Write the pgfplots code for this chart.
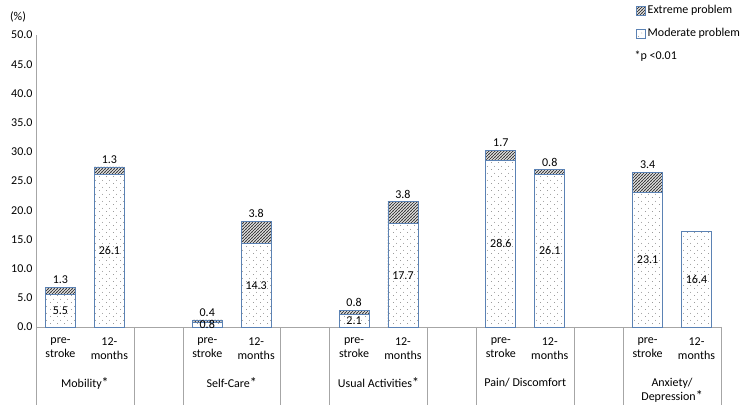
\documentclass[border=0pt]{standalone}
\usepackage{fontspec}
\setmainfont{Carlito}
\usepackage{pgfplots}
\pgfplotsset{compat=1.18}
\usepackage{pgfplotstable}
\usetikzlibrary{patterns.meta}

\definecolor{barline}{HTML}{5B82B4}
\definecolor{axgray}{HTML}{A6A6A6}
\definecolor{hatch}{HTML}{404040}
\definecolor{dotc}{HTML}{666666}

\tikzdeclarepattern{
  name=sparsedots,
  type=colored,
  bounding box={(0pt,0pt) and (7pt,7pt)},
  tile size={(7pt,7pt)},
  code={\fill[dotc] (1.75pt,1.75pt) circle (0.45pt); \fill[dotc] (5.25pt,5.25pt) circle (0.45pt);}
}
\tikzdeclarepattern{
  name=hatchlines,
  type=colored,
  bounding box={(-0.5pt,-0.5pt) and (3.5pt,3.5pt)},
  tile size={(3pt,3pt)},
  code={\draw[hatch, line width=0.75pt] (-0.5pt,-0.5pt) -- (3.5pt,3.5pt);}
}

\pgfplotsset{sqlegend/.style={legend image code/.code={\draw[##1] (0pt,-4.5pt) rectangle (9pt,4.5pt);}}}
\newcommand\lbl{\fontsize{12}{14}\selectfont}
\newcommand\st{{\fontsize{14}{14}\selectfont*}}

% x = slot, mod = moderate problem, ext = extreme problem, tot = top of the bar
\pgfplotstableread{
x  mod  ext  tot
0  5.5  1.3  6.8
1  26.1 1.3  27.4
3  0.8  0.4  1.2
4  14.3 3.8  18.1
6  2.1  0.8  2.9
7  17.7 3.8  21.5
9  28.6 1.7  30.3
10 26.1 0.8  26.9
12 23.1 3.4  26.5
13 16.4 0    16.4
}\eqdata

\begin{document}
\begin{tikzpicture}
\begin{axis}[
    width=685pt, height=292pt, scale only axis,
    ybar, bar width=30pt, bar shift=0pt,
    xmin=-0.5, xmax=13.5, ymin=0, ymax=50,
    enlargelimits=false,
    axis x line=bottom, axis y line=left,
    axis line style={draw=axgray, -},
    major tick length=0pt,
    ytick={0,5,...,50},
    yticklabel style={/pgf/number format/fixed, /pgf/number format/fixed zerofill,
        /pgf/number format/precision=1, /pgf/number format/assume math mode=true},
    xtick={0,1,3,4,6,7,9,10,12,13},
    xticklabels={{pre-\\stroke},{12-\\months},{pre-\\stroke},{12-\\months},{pre-\\stroke},
        {12-\\months},{pre-\\stroke},{12-\\months},{pre-\\stroke},{12-\\months}},
    xticklabel style={align=center, yshift=-7pt},
    tick label style={font=\fontsize{12}{14}\selectfont},
    clip=false,
    legend style={at={(axis description cs:0.876,1.108)}, anchor=north west,
        draw=none, fill=none, font=\lbl,
        row sep=9pt, inner sep=0pt},
    legend cell align=left,
    after end axis/.code={
        % moderate values, middle of the segment
        \node[font=\lbl] at (axis cs:0,2.75) {5.5};
        \node[font=\lbl] at (axis cs:1,13.05) {26.1};
        \node[font=\lbl] at (axis cs:3,0.4) {0.8};
        \node[font=\lbl] at (axis cs:4,7.15) {14.3};
        \node[font=\lbl] at (axis cs:6,1.05) {2.1};
        \node[font=\lbl] at (axis cs:7,8.85) {17.7};
        \node[font=\lbl] at (axis cs:9,14.3) {28.6};
        \node[font=\lbl] at (axis cs:10,13.05) {26.1};
        \node[font=\lbl] at (axis cs:12,11.55) {23.1};
        \node[font=\lbl] at (axis cs:13,8.2) {16.4};
    },
]
% whole bar hatched (extreme on top), moderate part dotted over it
\addplot[forget plot, draw=none, fill=white, postaction={pattern=hatchlines}]
    table[x=x, y=tot] {\eqdata};
\addplot[forget plot, draw=none, fill=white, postaction={pattern=sparsedots}]
    table[x=x, y=mod] {\eqdata};
% outlines
\addplot[forget plot, draw=barline, line width=0.9pt, fill=none]
    table[x=x, y=tot] {\eqdata};
\addplot[forget plot, draw=barline, line width=0.9pt, fill=none]
    table[x=x, y=mod] {\eqdata};

\addlegendimage{sqlegend, draw=barline, fill=white, postaction={pattern=hatchlines}}
\addlegendentry{Extreme problem}
\addlegendimage{sqlegend, draw=barline, fill=white, postaction={pattern=sparsedots}}
\addlegendentry{Moderate problem}
\addlegendimage{empty legend}
\addlegendentry{\hspace{-13pt}*p <0.01}

% extreme values, above the bar
\node[font=\lbl, anchor=south, inner sep=3pt] at (axis cs:0,6.8) {1.3};
\node[font=\lbl, anchor=south, inner sep=3pt] at (axis cs:1,27.4) {1.3};
\node[font=\lbl, anchor=south, inner sep=3pt] at (axis cs:3,1.2) {0.4};
\node[font=\lbl, anchor=south, inner sep=3pt] at (axis cs:4,18.1) {3.8};
\node[font=\lbl, anchor=south, inner sep=3pt] at (axis cs:6,2.9) {0.8};
\node[font=\lbl, anchor=south, inner sep=3pt] at (axis cs:7,21.5) {3.8};
\node[font=\lbl, anchor=south, inner sep=3pt] at (axis cs:9,30.3) {1.7};
\node[font=\lbl, anchor=south, inner sep=3pt] at (axis cs:10,26.9) {0.8};
\node[font=\lbl, anchor=south, inner sep=3pt] at (axis cs:12,26.5) {3.4};

% group separators below the axis
\pgfplotsinvokeforeach{-0.5,1.5,2.5,4.5,5.5,7.5,8.5,10.5,11.5,13.5}{
    \draw[axgray] (axis cs:#1,0) -- ++(0pt,-78pt);
}
% group names
\node[font=\lbl] at ([yshift=-56pt]axis cs:0.5,0) {Mobility\st};
\node[font=\lbl] at ([yshift=-56pt]axis cs:3.5,0) {Self-Care\st};
\node[font=\lbl] at ([yshift=-56pt]axis cs:6.5,0) {Usual Activities\st};
\node[font=\lbl] at ([yshift=-56pt]axis cs:9.5,0) {Pain/ Discomfort};
\node[font=\lbl, align=center] at ([yshift=-63pt]axis cs:12.5,0) {Anxiety/\\Depression\st};

\node[font=\lbl] at ([shift={(-18pt,18pt)}]rel axis cs:0,1) {(\%)};

\coordinate (O) at (rel axis cs:0,0);
\coordinate (T) at (rel axis cs:1,1);
\end{axis}
\pgfresetboundingbox
\path[use as bounding box] ([shift={(-36pt,-82pt)}]O) rectangle ([shift={(29pt,35pt)}]T);
\end{tikzpicture}
\end{document}
